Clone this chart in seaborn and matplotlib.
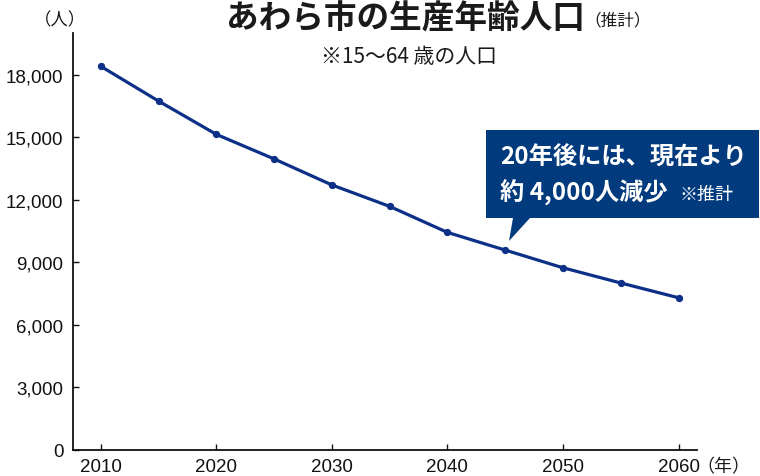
import numpy as np
import pandas as pd
import matplotlib
matplotlib.use("Agg")
import matplotlib.pyplot as plt
from matplotlib.patches import Polygon
import seaborn as sns

# data
years = [2010, 2015, 2020, 2025, 2030, 2035, 2040, 2045, 2050, 2055, 2060]
population = [18420, 16750, 15150, 13970, 12720, 11690, 10440, 9590, 8740, 8010, 7300]
y_ticks = [0, 3000, 6000, 9000, 12000, 15000, 18000]
x_ticks = [2010, 2020, 2030, 2040, 2050, 2060]

title = "あわら市の生産年齢人口"
title_note = "（推計）"
subtitle = "※15～64 歳の人口"
callout_line1 = "20年後には、現在より"
callout_line2 = "約 4,000人減少"
callout_note = "※推計"

LINE_COLOR = "#0c2f88"
BOX_COLOR = "#023a7e"
JP = ["Noto Sans CJK JP", "DejaVu Sans"]
NUM = ["Liberation Sans", "DejaVu Sans"]

sns.set_theme(style="ticks")
plt.rcParams["font.family"] = JP

df = pd.DataFrame({"year": years, "population": population})

W, H = 760, 477
fig = plt.figure(figsize=(W / 100, H / 100), dpi=100)
# axes placed in pixel terms of the reference
ax_left, ax_right, ax_top, ax_bottom = 73, 697, 34.4, 450.7
ax = fig.add_axes([ax_left / W, 1 - ax_bottom / H,
                   (ax_right - ax_left) / W, (ax_bottom - ax_top) / H])

sns.lineplot(data=df, x="year", y="population", ax=ax, color=LINE_COLOR,
             linewidth=2.3, marker="o", markersize=4.5,
             markeredgecolor=LINE_COLOR, markerfacecolor=LINE_COLOR)

ax.set_xlim(2007.6, 2061.6)
ax.set_ylim(0, 20000)
ax.set_xticks(x_ticks)
ax.set_yticks(y_ticks)
ax.set_yticklabels([f"{v:,}" for v in y_ticks])
ax.set_xlabel("")
ax.set_ylabel("")
sns.despine(ax=ax)
for s in ["left", "bottom"]:
    ax.spines[s].set_linewidth(1.3)
    ax.spines[s].set_color("#111111")
ax.tick_params(axis="both", direction="in", length=4, width=1.0,
               colors="#111111", labelsize=13.5)
ax.tick_params(axis="y", pad=7)
ax.tick_params(axis="x", pad=6)
for lab in ax.get_xticklabels() + ax.get_yticklabels():
    lab.set_family(NUM)
    lab.set_color("#111111")

def px(x, y):
    return x / W, 1 - y / H

# titles and unit labels
fig.text(*px(585, 19), title, ha="right", va="center", fontsize=23.5,
         fontweight="bold", color="#1a1a1a")
fig.text(*px(584, 21), title_note, ha="left", va="center", fontsize=12,
         color="#1a1a1a")
fig.text(*px(409, 57), subtitle, ha="center", va="center", fontsize=15,
         color="#1a1a1a")
fig.text(*px(60, 20), "（人）", ha="center", va="center", fontsize=12.5,
         color="#1a1a1a")
fig.text(*px(723, 467), "（年）", ha="center", va="center", fontsize=13,
         color="#1a1a1a")

# callout box with pointer
box = [(486, 131), (759, 131), (759, 219), (530, 219), (509, 242),
       (513, 219), (486, 219)]
fig.patches.append(Polygon([px(x, y) for x, y in box], closed=True,
                           transform=fig.transFigure, facecolor=BOX_COLOR,
                           edgecolor="none"))
fig.text(*px(500, 158), callout_line1, ha="left", va="center", fontsize=17.5,
         fontweight="bold", color="white")
fig.text(*px(500, 193), callout_line2, ha="left", va="center", fontsize=17.5,
         fontweight="bold", color="white")
fig.text(*px(679, 195), callout_note, ha="left", va="center", fontsize=13,
         color="white")

fig.savefig("out.png", dpi=100)
